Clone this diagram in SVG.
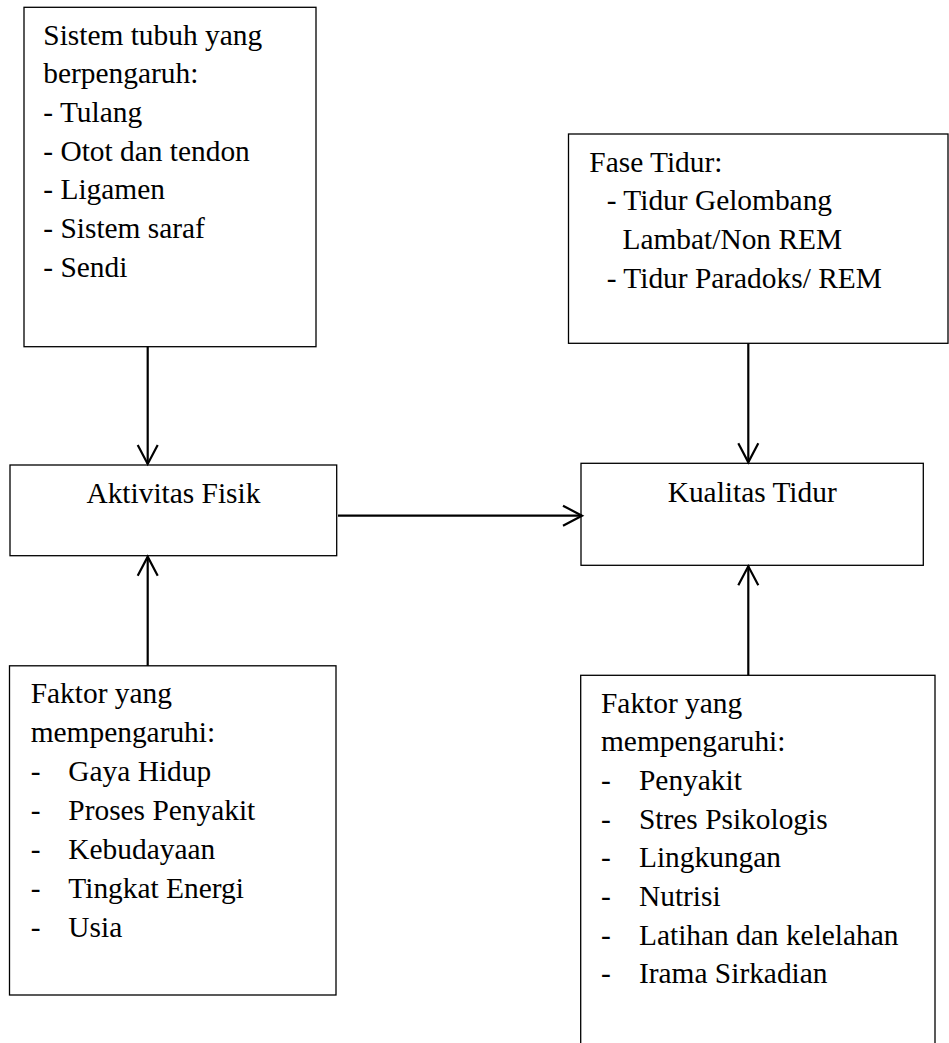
<svg xmlns="http://www.w3.org/2000/svg" width="949" height="1043" viewBox="0 0 949 1043">
<style>
.box{fill:#fff;stroke:#000;stroke-width:1.3}
.t{font-family:"Liberation Serif","Times New Roman",serif;font-size:29.4px;fill:#000}
.c{text-anchor:middle}
.conn{stroke:#000;stroke-width:2.2;fill:none}
</style>
<defs>
<marker id="arr" markerUnits="userSpaceOnUse" markerWidth="30" markerHeight="30" viewBox="-25 -15 30 30" refX="0" refY="0" orient="auto">
<path d="M-19,-10 L0,0 L-19,10" fill="none" stroke="#000" stroke-width="2.2"/>
</marker>
</defs>
<rect width="949" height="1043" fill="#fff"/>
<g id="sistem-tubuh">
<rect class="box" x="24" y="7.3" width="292" height="339.4"/>
<text class="t" x="43.3" y="44.5">Sistem tubuh yang</text>
<text class="t" x="43.3" y="83.2">berpengaruh:</text>
<text class="t" x="43.3" y="121.9">- Tulang</text>
<text class="t" x="43.3" y="160.6">- Otot dan tendon</text>
<text class="t" x="43.3" y="199.3">- Ligamen</text>
<text class="t" x="43.3" y="238">- Sistem saraf</text>
<text class="t" x="43.3" y="276.7">- Sendi</text>
</g>
<g id="fase-tidur">
<rect class="box" x="568.5" y="134" width="379.5" height="209.3"/>
<text class="t" x="589.3" y="171.7">Fase Tidur:</text>
<text class="t" x="606.7" y="210.4">- Tidur Gelombang</text>
<text class="t" x="622.5" y="249.1">Lambat/Non REM</text>
<text class="t" x="606.7" y="287.8">- Tidur Paradoks/ REM</text>
</g>
<g id="aktivitas-fisik">
<rect class="box" x="10" y="465" width="326.7" height="90.7"/>
<text class="t c" x="173.4" y="502.7">Aktivitas Fisik</text>
</g>
<g id="kualitas-tidur">
<rect class="box" x="581" y="463.3" width="342.3" height="102"/>
<text class="t c" x="752.2" y="501.7">Kualitas Tidur</text>
</g>
<g id="faktor-aktivitas">
<rect class="box" x="9.5" y="665.8" width="326.5" height="329.2"/>
<text class="t" x="30.7" y="703.3">Faktor yang</text>
<text class="t" x="30.7" y="742.3">mempengaruhi:</text>
<text class="t" x="30.7" y="781.3">-</text><text class="t" x="68.3" y="781.3">Gaya Hidup</text>
<text class="t" x="30.7" y="820.3">-</text><text class="t" x="68.3" y="820.3">Proses Penyakit</text>
<text class="t" x="30.7" y="859.3">-</text><text class="t" x="68.3" y="859.3">Kebudayaan</text>
<text class="t" x="30.7" y="898.3">-</text><text class="t" x="68.3" y="898.3">Tingkat Energi</text>
<text class="t" x="30.7" y="937.3">-</text><text class="t" x="68.3" y="937.3">Usia</text>
</g>
<g id="faktor-tidur">
<rect class="box" x="580.7" y="675.3" width="354.3" height="380"/>
<text class="t" x="601" y="712.7">Faktor yang</text>
<text class="t" x="601" y="751.3">mempengaruhi:</text>
<text class="t" x="601" y="790">-</text><text class="t" x="639" y="790">Penyakit</text>
<text class="t" x="601" y="828.6">-</text><text class="t" x="639" y="828.6">Stres Psikologis</text>
<text class="t" x="601" y="867.3">-</text><text class="t" x="639" y="867.3">Lingkungan</text>
<text class="t" x="601" y="906">-</text><text class="t" x="639" y="906">Nutrisi</text>
<text class="t" x="601" y="944.6">-</text><text class="t" x="639" y="944.6">Latihan dan kelelahan</text>
<text class="t" x="601" y="983.3">-</text><text class="t" x="639" y="983.3">Irama Sirkadian</text>
</g>
<g id="connectors">
<line class="conn" x1="147.7" y1="346.7" x2="147.7" y2="464" marker-end="url(#arr)"/>
<line class="conn" x1="147.7" y1="665.8" x2="147.7" y2="556.7" marker-end="url(#arr)"/>
<line class="conn" x1="338" y1="515.7" x2="582" y2="515.7" marker-end="url(#arr)"/>
<line class="conn" x1="748.3" y1="343.3" x2="748.3" y2="462.3" marker-end="url(#arr)"/>
<line class="conn" x1="748.3" y1="675.3" x2="748.3" y2="566.3" marker-end="url(#arr)"/>
</g>
</svg>
